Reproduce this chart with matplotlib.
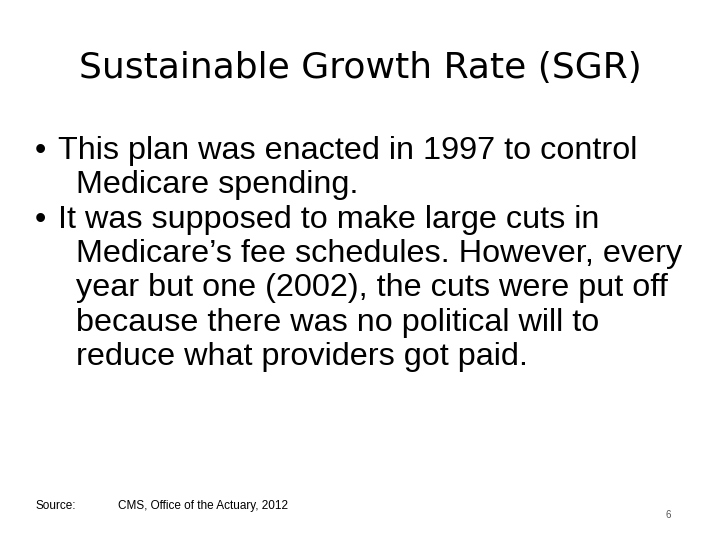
import matplotlib
matplotlib.use("Agg")
import matplotlib.pyplot as plt

W, H = 720, 540

title = "Sustainable Growth Rate (SGR)"
bullets = [
    ["This plan was enacted in 1997 to control", "Medicare spending."],
    ["It was supposed to make large cuts in",
     "Medicare\u2019s fee schedules. However, every",
     "year but one (2002), the cuts were put off",
     "because there was no political will to",
     "reduce what providers got paid."],
]
source_label = "Source:"
source_text = "CMS, Office of the Actuary, 2012"
page_no = "6"

fig = plt.figure(figsize=(7.2, 5.4), dpi=100)
fig.patch.set_facecolor("white")


def put(x, y, s, **kw):
    fig.text(x / W, 1 - y / H, s, va="center", **kw)


put(360, 68, title, ha="center", fontsize=26, family="DejaVu Sans")

body = dict(fontsize=23.3, family="Liberation Sans")
y = 151
for lines in bullets:
    put(35, y, "\u2022", **body)
    put(58, y, lines[0], **body)
    y += 34.3
    for line in lines[1:]:
        put(76, y, line, **body)
        y += 34.3

put(35, 506, source_label, fontsize=8.5, family="Liberation Sans")
put(118, 506, source_text, fontsize=8.5, family="Liberation Sans")
put(666, 515, page_no, fontsize=7, family="Liberation Sans", color="#555555")

fig.savefig("out.png", dpi=100)
